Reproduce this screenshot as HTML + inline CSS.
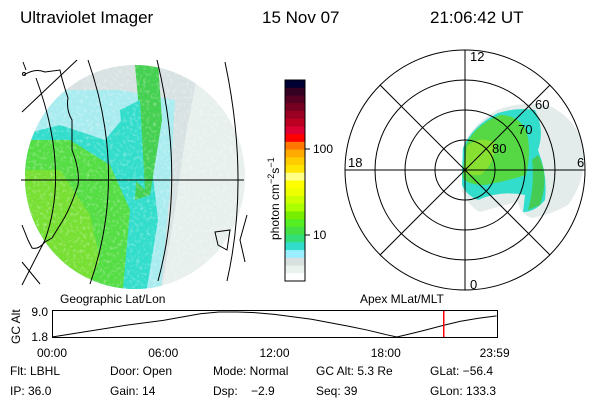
<!DOCTYPE html>
<html><head><meta charset="utf-8"><style>
body{margin:0;background:#fff}
svg{display:block;font-family:"Liberation Sans",sans-serif}
</style></head><body>
<svg width="600" height="400" viewBox="0 0 600 400">
<defs>
<clipPath id="disc"><ellipse cx="135" cy="177" rx="110" ry="112"/></clipPath>
<filter id="noise" x="0" y="0" width="100%" height="100%">
<feTurbulence type="fractalNoise" baseFrequency="0.3" numOctaves="2" seed="3"/>
<feColorMatrix type="matrix" values="0 0 0 0 1  0 0 0 0 1  0 0 0 0 1  0 0 0 -2.5 1.3"/>
<feComposite in2="SourceGraphic" operator="in"/>
</filter>
</defs>
<g font-size="17">
<text x="20" y="23">Ultraviolet Imager</text>
<text x="262" y="23">15 Nov 07</text>
<text x="430" y="23">21:06:42 UT</text>
</g>

<g clip-path="url(#disc)">
<rect x="20" y="60" width="230" height="235" fill="#e8f0ee"/>
<path d="M40 60 L200 60 L185 140 L175 210 L160 300 L20 300 L20 100Z" fill="#d8e2e2"/>
<path d="M40 90 L120 90 L175 100 L170 190 L160 300 L20 300Z" fill="#a8ecf0"/>
<path d="M20 135 L60 125 L105 140 L130 110 L150 150 L158 220 L145 300 L20 300Z" fill="#33ddcc"/>
<path d="M20 140 L70 140 L110 165 L130 210 L122 300 L20 300Z" fill="#55dd44"/>
<path d="M20 170 L60 170 L90 215 L100 260 L80 300 L20 300Z" fill="#77e033"/>
<path d="M135 65 L158 62 L162 120 L150 195 L135 200 L140 120Z" fill="#44d050"/>
<path d="M120 110 L140 100 L145 190 L125 170Z" fill="#33ddcc"/>
<rect x="20" y="60" width="230" height="235" fill="#fff" filter="url(#noise)" opacity="0.35"/>
</g>
<g stroke="#000" fill="none" stroke-width="1">
<line x1="21" y1="180" x2="244" y2="180"/>
<path d="M36 78 Q70 170 45 240 L22 285"/>
<path d="M88 60 Q128 175 90 284"/>
<path d="M157 60 Q186 178 158 281"/>
<path d="M225 62 Q250 180 227 281"/>
<path d="M22 112 L77 60"/>
<path d="M22 262 L40 284"/>
<path d="M24 75 Q35 68 45 72 L60 70 Q62 80 68 98 Q66 110 72 120 L72 150 Q80 170 78 185 Q70 210 60 225 L52 238 L45 242"/>
<path d="M22 225 L28 240 L32 248 Q38 250 45 242"/>
<path d="M215 232 L230 230 L227 250 L218 245Z"/>
<path d="M247 215 L240 240 L245 262"/>
<path d="M23 62 L26 70"/>
<circle cx="24" cy="74" r="1.5"/>
</g>
<text x="60" y="303" font-size="12">Geographic Lat/Lon</text>

<g id="cbar"></g>
<text transform="translate(279,240) rotate(-90)" font-size="12">photon cm<tspan dy="-5" font-size="9">−2</tspan><tspan dy="5">s</tspan><tspan dy="-5" font-size="9">−1</tspan></text>

<g>
<path d="M465 170 L462 150 Q470 125 497 110 Q525 100 550 106 Q578 120 584 150 Q586 180 568 205 Q550 215 532 218 Q520 214 518 202 Q500 206 480 212 Q468 206 462 190Z" fill="#e3ecea"/>
<path d="M462 170 L463 148 Q472 126 498 113 Q518 107 535 110 Q545 130 538 150 Q548 175 545 200 Q535 212 523 212 L525 195 Q500 190 478 200 Q466 195 462 185Z" fill="#33ddcc"/>
<path d="M463 170 L466 145 Q475 125 500 115 Q518 115 526 130 Q532 150 526 175 Q510 180 485 185 Q468 185 463 178Z" fill="#55d844"/>
<path d="M464 170 L467 146 Q480 135 495 143 Q495 165 480 175 Q470 176 464 172Z" fill="#88e033"/>
<path d="M538 155 Q550 175 540 205 L528 210 Q535 185 532 160Z" fill="#44cc55"/>
</g>
<g stroke="#000" fill="none">
<circle cx="465" cy="170" r="120"/>
<circle cx="465" cy="170" r="90"/>
<circle cx="465" cy="170" r="60"/>
<circle cx="465" cy="170" r="30"/>
<line x1="345" y1="170" x2="585" y2="170"/>
<line x1="465" y1="50" x2="465" y2="290"/>
<line x1="380" y1="85" x2="550" y2="255"/>
<line x1="550" y1="85" x2="380" y2="255"/>
</g>
<g font-size="13">
<text x="470" y="61">12</text>
<text x="470" y="289">0</text>
<text x="348" y="167">18</text>
<text x="577" y="167">6</text>
<text x="535" y="109">60</text>
<text x="518" y="134">70</text>
<text x="492" y="153">80</text>
</g>
<text x="360" y="303" font-size="12">Apex MLat/MLT</text>

<rect x="52.5" y="310.5" width="445" height="27" fill="none" stroke="#000"/>
<text transform="translate(20,344) rotate(-90)" font-size="12">GC Alt</text>
<g id="alt"></g>

<g font-size="12">
<text x="10" y="375">Flt: LBHL</text><text x="110" y="375">Door: Open</text><text x="213" y="375">Mode: Normal</text><text x="316" y="375">GC Alt: 5.3 Re</text><text x="430" y="375">GLat: −56.4</text>
<text x="10" y="395">IP: 36.0</text><text x="110" y="395">Gain: 14</text><text x="213" y="395">Dsp:&#160;&#160;&#160; −2.9</text><text x="316" y="395">Seq: 39</text><text x="430" y="395">GLon: 133.3</text>
</g>
</svg>
<script>
const NS="http://www.w3.org/2000/svg";
const cbarColors=["#000033","#330022","#550022","#770022","#990022","#bb0022","#dd0033","#ff0000","#ff7700","#ffaa00","#ffcc00","#ffe600","#ffff88","#ffff00","#eeff00","#ccff00","#aaff00","#77ee00","#55ee22","#44e044","#33dd77","#33ddcc","#99eeff","#d8e0e0","#eaf2ee","#ffffff"];
const cbarTicks=["100","10"];
const cbarTickVals=[100,10];
const altHours=[0,2,4,6,8,9,10,11,12,14,16,17,18,18.6,19,20,21,22,23,23.98];
const altValues=[1.8,3.5,5.2,6.6,8.5,9.0,9.0,8.8,8.3,6.9,4.9,3.8,2.5,1.8,2.3,3.6,5.0,6.3,7.2,7.9];
const altTicks=["9.0","1.8"];
const altTickVals=[9.0,1.8];
const timeLabels=["00:00","06:00","12:00","18:00","23:59"];
const timeVals=[0,6,12,18,23.98];
const currentHour=21.11;

const cb=document.getElementById('cbar');
const cbTop=80,cbBot=281,cbX=285,cbW=20;
const bh=(cbBot-cbTop)/cbarColors.length;
cbarColors.forEach((c,i)=>{const r=document.createElementNS(NS,'rect');
r.setAttribute('x',cbX);r.setAttribute('y',cbTop+i*bh);r.setAttribute('width',cbW);r.setAttribute('height',bh+0.5);r.setAttribute('fill',c);


cb.appendChild(r);});
const fr=document.createElementNS(NS,'rect');fr.setAttribute('x',cbX);fr.setAttribute('y',cbTop);fr.setAttribute('width',cbW);fr.setAttribute('height',cbBot-cbTop);fr.setAttribute('fill','none');fr.setAttribute('stroke','#000');


cb.appendChild(fr);
function cbY(v){return 235-(Math.log10(v)-1)*86;}
cbarTickVals.forEach((v,i)=>{const y=cbY(v);
const l=document.createElementNS(NS,'line');l.setAttribute('x1',cbX+cbW);l.setAttribute('x2',cbX+cbW+5);l.setAttribute('y1',y);l.setAttribute('y2',y);l.setAttribute('stroke','#000');cb.appendChild(l);
const t=document.createElementNS(NS,'text');t.setAttribute('x',cbX+cbW+8);t.setAttribute('y',y+4);t.setAttribute('font-size','12');t.textContent=cbarTicks[i];


cb.appendChild(t);});

const g=document.getElementById('alt');
const x0=52,x1=497,yTop=312,yBot=337;
function xs(h){return x0+h/24*(x1-x0);}
function ys(v){return yBot-(v-1.8)/(9.0-1.8)*(yBot-yTop);}
const p=document.createElementNS(NS,'polyline');
p.setAttribute('points',altHours.map((h,i)=>xs(h)+','+ys(altValues[i])).join(' '));
p.setAttribute('fill','none');p.setAttribute('stroke','#000');


g.appendChild(p);
const rx=Math.round(xs(currentHour));
const rl=document.createElementNS(NS,'rect');rl.setAttribute('x',rx);rl.setAttribute('y',311);rl.setAttribute('width',1.5);rl.setAttribute('height',26);rl.setAttribute('fill','#ff0000');


g.appendChild(rl);
altTickVals.forEach((v,i)=>{const t=document.createElementNS(NS,'text');t.setAttribute('x',48);t.setAttribute('y',ys(v)+4);t.setAttribute('text-anchor','end');t.setAttribute('font-size','12');t.textContent=altTicks[i];


g.appendChild(t);});
timeVals.forEach((h,i)=>{const t=document.createElementNS(NS,'text');t.setAttribute('x',xs(h)+(i==4?-2:0));t.setAttribute('y',357);t.setAttribute('text-anchor','middle');t.setAttribute('font-size','12');t.textContent=timeLabels[i];


g.appendChild(t);});
</script>
</body></html>
